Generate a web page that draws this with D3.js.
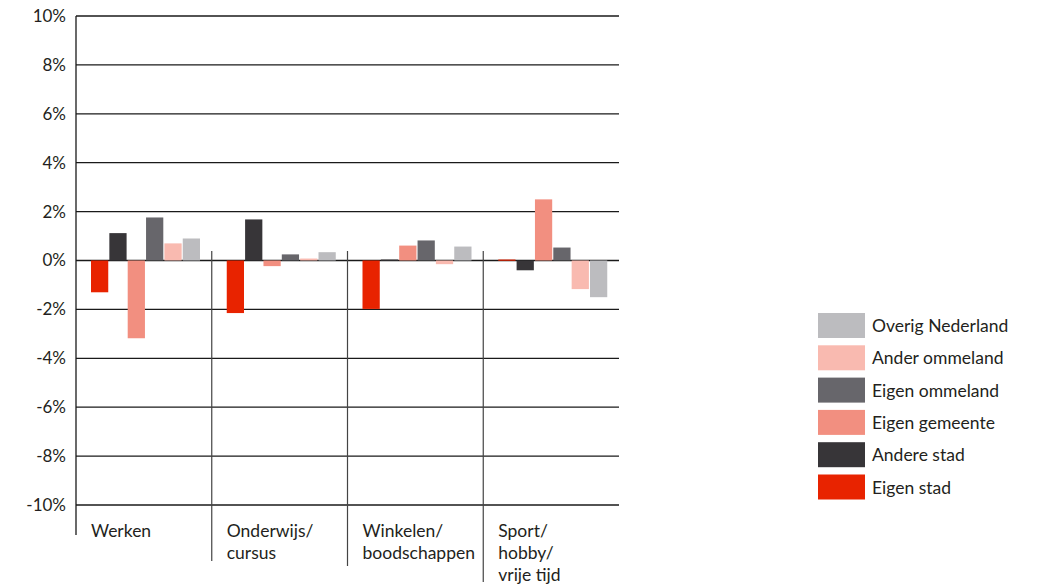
<!DOCTYPE html>
<html><head><meta charset="utf-8">
<script src="https://cdn.jsdelivr.net/npm/d3@7"></script>
<style>
body{margin:0;background:#fff;}
text{font-family:Lato,"Open Sans",sans-serif;fill:#231f20;}
</style></head>
<body><svg id="c" width="1039" height="587"></svg>
<script>
const categories = [["Werken"],["Onderwijs/","cursus"],["Winkelen/","boodschappen"],["Sport/","hobby/","vrije tijd"]];
const seriesNames = ["Eigen stad","Andere stad","Eigen gemeente","Eigen ommeland","Ander ommeland","Overig Nederland"];
const seriesColors = ["#e82300","#373538","#f28f80","#67666b","#f9bab0","#bcbcbf"];
const eigenStad      = [-1.3, -2.15, -1.98, 0.04];
const andereStad     = [1.12, 1.68, 0.04, -0.4];
const eigenGemeente  = [-3.18, -0.23, 0.61, 2.5];
const eigenOmmeland  = [1.76, 0.25, 0.82, 0.53];
const anderOmmeland  = [0.7, 0.08, -0.15, -1.17];
const overigNL       = [0.9, 0.34, 0.57, -1.5];
const yTicks = [10,8,6,4,2,0,-2,-4,-6,-8,-10];
const legendOrder = ["Overig Nederland","Ander ommeland","Eigen ommeland","Eigen gemeente","Andere stad","Eigen stad"];

const seriesValues = [eigenStad, andereStad, eigenGemeente, eigenOmmeland, anderOmmeland, overigNL];
const svg = d3.select("#c");
const catKeys = categories.map(c => c.join(" "));
const x0 = d3.scaleBand().domain(catKeys).range([76, 619]).padding(0);
const x1 = d3.scaleBand().domain(seriesNames).range([15, 124]).paddingInner(0.06);
const y = d3.scaleLinear().domain([-10, 10]).range([505, 16]);
const color = d3.scaleOrdinal().domain(seriesNames).range(seriesColors);

// gridlines
svg.append("g").selectAll("line").data(yTicks).join("line")
  .attr("x1", 76).attr("x2", 619)
  .attr("y1", d => y(d)).attr("y2", d => y(d))
  .attr("stroke", "#1a1a1a").attr("stroke-width", 1.3);

// bars
const groups = svg.append("g").selectAll("g").data(catKeys).join("g")
  .attr("transform", d => `translate(${x0(d)},0)`);
groups.selectAll("rect").data((d, i) => seriesNames.map((s, j) => ({s, v: seriesValues[j][i]})))
  .join("rect")
  .attr("x", d => x1(d.s)).attr("width", x1.bandwidth())
  .attr("y", d => y(Math.max(0, d.v)))
  .attr("height", d => Math.max(1.2, Math.abs(y(d.v) - y(0))))
  .attr("fill", d => color(d.s));

// y axis
const yAxis = d3.axisLeft(y).tickValues(yTicks).tickSize(0).tickPadding(10).tickFormat(d => d + "%");
const ya = svg.append("g").attr("transform", "translate(76,0)").call(yAxis);
ya.select(".domain").remove();
ya.selectAll("text").style("font-size", "17px").style("font-family", "Lato,sans-serif").attr("fill", "#231f20");
svg.append("line").attr("x1", 76).attr("x2", 76).attr("y1", 16).attr("y2", 535)
  .attr("stroke", "#1a1a1a").attr("stroke-width", 1.3);

// separators
const sepBottoms = [561, 566, 582];
catKeys.slice(1).forEach((k, i) => {
  svg.append("line").attr("x1", x0(k)).attr("x2", x0(k)).attr("y1", 251).attr("y2", sepBottoms[i])
    .attr("stroke", "#444").attr("stroke-width", 1.2);
});

// category labels
categories.forEach((lines, i) => {
  const t = svg.append("text").attr("x", x0(catKeys[i]) + 15).attr("y", 537).style("font-size", "17.5px");
  lines.forEach((l, j) => t.append("tspan").attr("x", x0(catKeys[i]) + 15).attr("dy", j === 0 ? 0 : 22).text(l));
});

// legend
const lg = svg.append("g").selectAll("g").data(legendOrder).join("g")
  .attr("transform", (d, i) => `translate(818,${313 + i * 32.3})`);
lg.append("rect").attr("width", 47).attr("height", 25).attr("fill", d => color(d));
lg.append("text").attr("x", 54).attr("y", 19).style("font-size", "17.5px").text(d => d);
</script></body></html>
